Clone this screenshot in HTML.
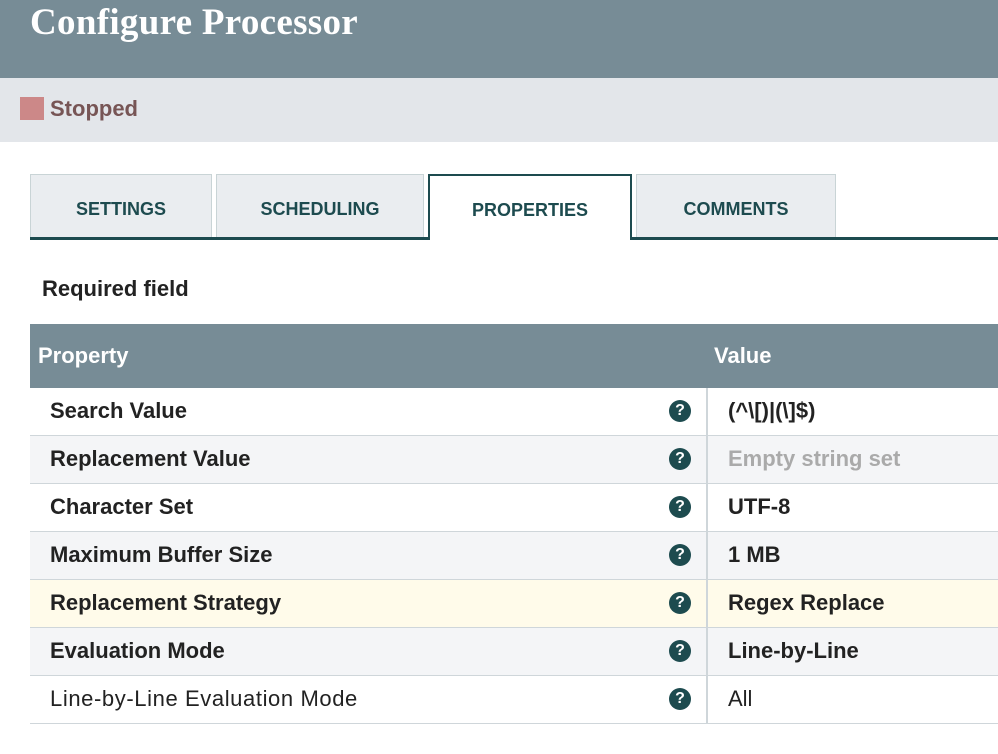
<!DOCTYPE html>
<html><head><style>
body{margin:0;width:998px;height:754px;overflow:hidden;background:#fff;font-family:"Liberation Sans",sans-serif;position:relative}
.hdr{position:absolute;left:0;top:0;width:998px;height:78px;background:#778c96}
.hdr span{position:absolute;left:30px;top:1px;font-family:"Liberation Serif",serif;font-weight:bold;font-size:37px;color:#fff;letter-spacing:0.3px}
.st{position:absolute;left:0;top:78px;width:998px;height:64px;background:#e3e6ea}
.sq{position:absolute;left:20px;top:97px;width:24px;height:23px;background:#cc8888}
.stt{position:absolute;left:50px;top:96px;font-weight:bold;font-size:22px;color:#775555}
.tab{position:absolute;top:174px;height:63px;background:#eaedf0;border:1px solid #c9d4d6;border-bottom:none;box-sizing:border-box;font-size:18px;color:#1d4b4f;text-align:center;line-height:68px;font-weight:bold}
.line{position:absolute;top:237px;height:3px;background:#1d4b4f}
.rf{position:absolute;left:42px;top:276px;font-weight:bold;font-size:22px;color:#222}
.th{position:absolute;left:30px;top:324px;width:968px;height:64px;background:#778c96;color:#fff;font-weight:bold;font-size:22px}
.row{position:absolute;left:30px;width:968px;height:47px;border-bottom:1px solid #cfd6da;font-size:22px;color:#222}
.row .n{position:absolute;left:20px;top:10px}
.row .v{position:absolute;left:698px;top:10px}
.row .d{position:absolute;left:676px;top:0;width:2px;height:48px;background:#cfd6da}
.q{position:absolute;left:639px;top:12px;width:22px;height:22px;border-radius:50%;background:#1d4b4f;color:#fff;font-size:16px;font-weight:bold;text-align:center;line-height:22px}
b{font-weight:bold}
</style></head><body>
<div class="hdr"><span>Configure Processor</span></div>
<div class="st"></div><div class="sq"></div><div class="stt">Stopped</div>
<div class="tab" style="left:30px;width:182px">SETTINGS</div>
<div class="tab" style="left:216px;width:208px">SCHEDULING</div>
<div class="tab" style="left:636px;width:200px">COMMENTS</div>
<div class="line" style="left:30px;width:400px"></div>
<div class="line" style="left:630px;width:368px"></div>
<div class="tab" style="left:428px;top:174px;width:204px;height:66px;background:#fff;border:2px solid #1d4b4f;border-bottom:none">PROPERTIES</div>
<div class="rf">Required field</div>
<div class="th"><span style="position:absolute;left:8px;top:19px">Property</span><span style="position:absolute;left:684px;top:19px">Value</span></div>
<div class="row" style="top:388px;background:#fff"><span class="n"><b>Search Value</b></span><div class="q">?</div><div class="d"></div><span class="v"><b>(^\[)|(\]$)</b></span></div>
<div class="row" style="top:436px;background:#f4f5f7"><span class="n"><b>Replacement Value</b></span><div class="q">?</div><div class="d"></div><span class="v" style="color:#aaa"><b>Empty string set</b></span></div>
<div class="row" style="top:484px;background:#fff"><span class="n"><b>Character Set</b></span><div class="q">?</div><div class="d"></div><span class="v"><b>UTF-8</b></span></div>
<div class="row" style="top:532px;background:#f4f5f7"><span class="n"><b>Maximum Buffer Size</b></span><div class="q">?</div><div class="d"></div><span class="v"><b>1 MB</b></span></div>
<div class="row" style="top:580px;background:#fffbea"><span class="n"><b>Replacement Strategy</b></span><div class="q">?</div><div class="d"></div><span class="v"><b>Regex Replace</b></span></div>
<div class="row" style="top:628px;background:#f4f5f7"><span class="n"><b>Evaluation Mode</b></span><div class="q">?</div><div class="d"></div><span class="v"><b>Line-by-Line</b></span></div>
<div class="row" style="top:676px;background:#fff"><span class="n" style="letter-spacing:0.6px">Line-by-Line Evaluation Mode</span><div class="q">?</div><div class="d"></div><span class="v">All</span></div>
</body></html>
